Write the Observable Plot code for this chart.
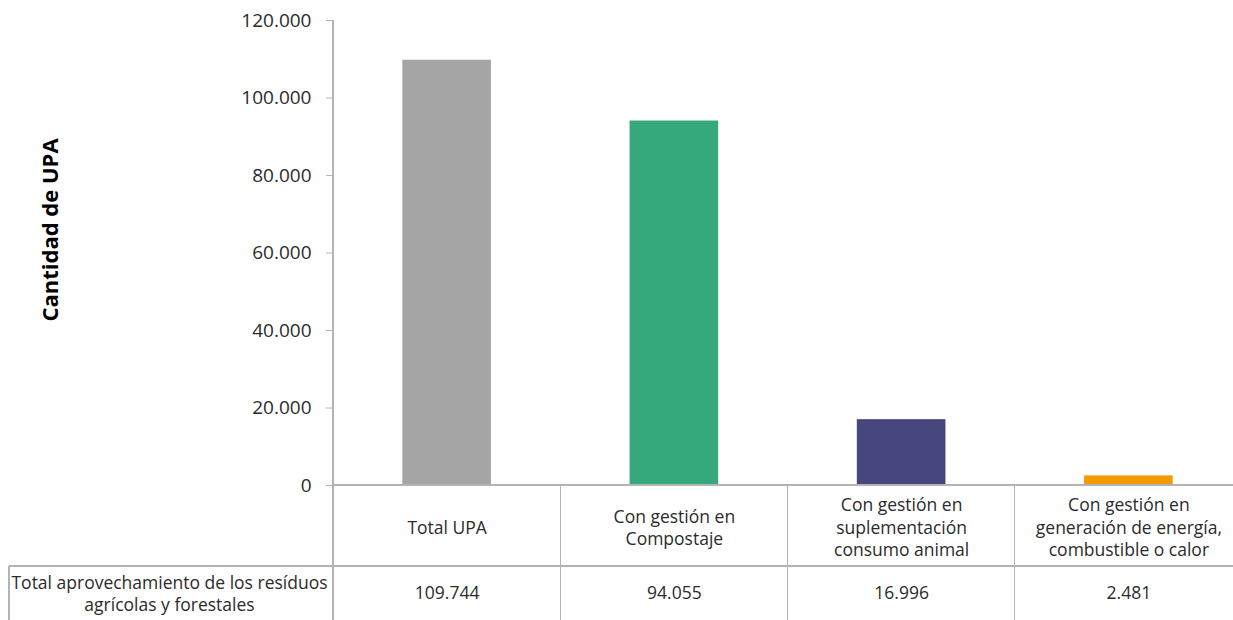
<!DOCTYPE html>
<html>
<head>
<meta charset="utf-8">
<script src="https://cdn.jsdelivr.net/npm/d3@7"></script>
<script src="https://cdn.jsdelivr.net/npm/@observablehq/plot@0.6"></script>
<style>
  html, body { margin: 0; padding: 0; background: #fff; overflow: hidden; }
  #wrap { width: 1233px; height: 620px; overflow: hidden; }
  #wrap svg { max-width: none !important; }
</style>
</head>
<body>
<div id="wrap"></div>
<script>
const categories = [
  "Total UPA",
  "Con gestión en\nCompostaje",
  "Con gestión en\nsuplementación\nconsumo animal",
  "Con gestión en\ngeneración de energía,\ncombustible o calor"
];
const values = [109744, 94055, 16996, 2481];
const barColors = ["#A5A5A5", "#36A97C", "#47477E", "#F29B00"];
const yTicks = [0, 20000, 40000, 60000, 80000, 100000, 120000];
const rowLabel = "Total aprovechamiento de los resíduos\nagrícolas y forestales";
const yLabel = "Cantidad de UPA";

const locale = d3.formatLocale({decimal: ",", thousands: ".", grouping: [3], currency: ["", ""]});
const fmt = locale.format(",d");

const data = categories.map((c, i) => ({cat: c, value: values[i]}));

const textColor = "#2b2b2b";
const lineColor = "#B4B4B4";

const chart = Plot.plot({
  width: 1242,
  height: 620,
  marginLeft: 333,
  marginRight: 0,
  marginTop: 20,
  marginBottom: 135,
  style: {fontFamily: "'Open Sans', sans-serif", fontSize: "19px", color: textColor, background: "#fff", maxWidth: "none"},
  x: {domain: categories, paddingInner: 0.61, paddingOuter: 0.305, round: false, axis: null},
  y: {domain: [0, 120000], ticks: yTicks, tickFormat: fmt, tickSize: 7, tickPadding: 15, label: null, axis: "left"},
  color: {domain: categories, range: barColors},
  marks: [
    Plot.barY(data, {x: "cat", y: "value", fill: "cat"}),
    Plot.text(data, {x: "cat", text: "cat", frameAnchor: "bottom", dy: 41, lineAnchor: "middle", lineHeight: 1.27, fontSize: 17.5, fill: textColor}),
    Plot.text(data, {x: "cat", text: d => fmt(d.value), frameAnchor: "bottom", dy: 108, lineAnchor: "middle", fontSize: 17.5, fill: textColor}),
    Plot.text([rowLabel], {frameAnchor: "bottom-left", dx: -164, dy: 107, lineAnchor: "middle", lineHeight: 1.27, fontSize: 17.5, fill: textColor, textAnchor: "middle"}),
    Plot.text([yLabel], {frameAnchor: "left", dx: -283, dy: -23, rotate: -90, fontSize: 22, fontWeight: "bold", fill: "#000", textAnchor: "middle"})
  ]
});
chart.style.maxWidth = "none";

// table grid lines derived from the x scale
const xs = chart.scale("x");
const r0 = xs.range[0], r1 = xs.range[1];
const n = xs.domain.length;
const step = (r1 - r0) / n;
const svg = d3.select(chart);
const ys = chart.scale("y");
const yBase = ys.range[0];
const yTop = ys.range[1];
const g = svg.append("g").attr("stroke", lineColor).attr("stroke-width", 1.2).attr("shape-rendering", "crispEdges");
// baseline
g.append("line").attr("x1", r0).attr("x2", r1).attr("y1", yBase).attr("y2", yBase);
// row separator
g.append("line").attr("x1", 9).attr("x2", r1).attr("y1", 566).attr("y2", 566);
// left border of row label cell
g.append("line").attr("x1", 9).attr("x2", 9).attr("y1", 566).attr("y2", 620);
// y axis line down through table
g.append("line").attr("x1", r0).attr("x2", r0).attr("y1", yTop).attr("y2", 620);
// category separators
for (let i = 1; i < n; i++) {
  const bx = r0 + i * step;
  g.append("line").attr("x1", bx).attr("x2", bx).attr("y1", yBase).attr("y2", 620);
}
// tick styling
svg.selectAll("[aria-label='y-axis tick']").attr("stroke", lineColor);
svg.selectAll("[aria-label='y-axis tick label']").attr("fill", textColor);

document.getElementById("wrap").appendChild(chart);
</script>
</body>
</html>
